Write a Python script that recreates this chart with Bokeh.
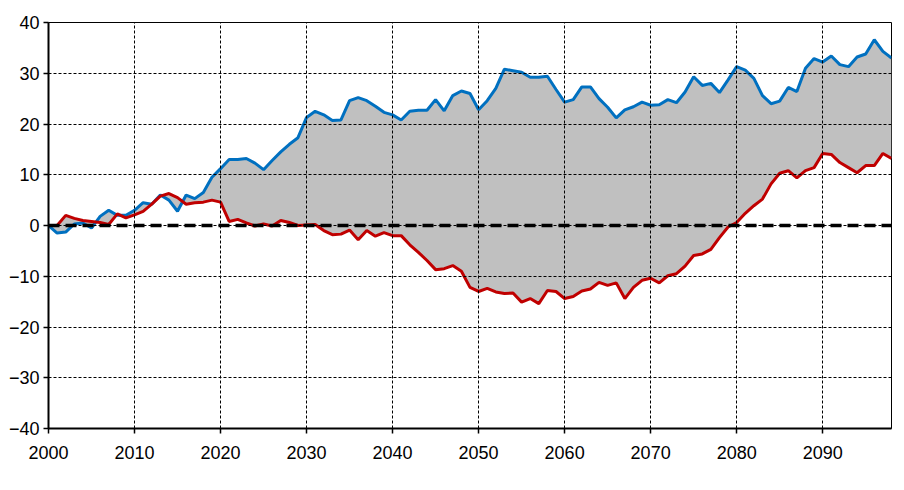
from bokeh.plotting import figure
from bokeh.models import ColumnDataSource, Span, FixedTicker, Range1d
from bokeh.embed import file_html
from bokeh.resources import INLINE

years = list(range(2000, 2099))

upper = [0.0, -1.5, -1.3, 0.3, 0.5, -0.5, 1.8, 3.0, 2.0, 2.0,
         3.0, 4.5, 4.2, 6.0, 5.0, 2.8, 6.0, 5.3, 6.5, 9.5,
         11.2, 13.0, 13.0, 13.2, 12.3, 11.0, 12.8, 14.5, 16.0, 17.3,
         21.3, 22.5, 21.8, 20.7, 20.8, 24.6, 25.2, 24.6, 23.5, 22.3,
         21.8, 20.8, 22.5, 22.7, 22.7, 24.8, 22.6, 25.6, 26.5, 26.0,
         22.8, 24.6, 27.0, 30.8, 30.5, 30.2, 29.2, 29.2, 29.4, 26.8,
         24.3, 24.8, 27.3, 27.3, 25.0, 23.3, 21.2, 22.8, 23.4, 24.3,
         23.7, 23.8, 24.8, 24.2, 26.3, 29.3, 27.6, 28.0, 26.2, 28.7,
         31.3, 30.6, 29.0, 25.6, 24.0, 24.5, 27.2, 26.4, 31.0, 32.9,
         32.2, 33.4, 31.7, 31.3, 33.2, 33.8, 36.6, 34.3, 33.0]

lower = [0.0, 0.0, 2.0, 1.4, 1.0, 0.8, 0.6, 0.2, 2.3, 1.5,
         2.1, 2.8, 4.2, 5.8, 6.3, 5.5, 4.2, 4.5, 4.6, 5.0,
         4.6, 0.8, 1.2, 0.5, -0.1, 0.3, -0.1, 1.0, 0.6, 0.0,
         0.1, 0.2, -1.0, -1.8, -1.7, -0.9, -2.8, -1.0, -2.1, -1.4,
         -2.0, -2.0, -3.8, -5.3, -6.9, -8.7, -8.5, -7.9, -9.0, -12.2,
         -13.0, -12.4, -13.1, -13.4, -13.3, -15.1, -14.4, -15.4, -12.8, -13.0,
         -14.4, -14.0, -12.9, -12.5, -11.2, -11.8, -11.3, -14.4, -12.2, -10.8,
         -10.4, -11.3, -9.9, -9.5, -8.0, -5.9, -5.6, -4.7, -2.4, -0.3,
         0.6, 2.4, 3.9, 5.2, 8.2, 10.3, 10.8, 9.4, 10.8, 11.4,
         14.2, 14.0, 12.4, 11.4, 10.4, 11.8, 11.8, 14.2, 13.2]

x_ticks = list(range(2000, 2091, 10))
y_ticks = list(range(-40, 41, 10))

src = ColumnDataSource(dict(x=years, up=upper, lo=lower))

p = figure(width=904, height=490, output_backend="svg", toolbar_location=None,
           x_range=Range1d(2000, 2098), y_range=Range1d(-40, 40),
           min_border_left=48, min_border_right=13, min_border_top=22, min_border_bottom=62)
p.background_fill_color = "white"
p.border_fill_color = "white"
p.outline_line_color = "black"
p.outline_line_width = 1

p.varea(x="x", y1="lo", y2="up", source=src, fill_color="#C0C0C0", level="underlay")

zero = Span(location=0, dimension="width", line_color="black", line_width=3.5,
            line_dash="11 6", level="glyph")
p.add_layout(zero)

p.line(x="x", y="up", source=src, line_color="#0070C0", line_width=3)
p.line(x="x", y="lo", source=src, line_color="#C00000", line_width=3)

p.xaxis.ticker = FixedTicker(ticks=x_ticks)
p.yaxis.ticker = FixedTicker(ticks=y_ticks)
for ax in (p.xaxis[0], p.yaxis[0]):
    ax.axis_line_color = "black"
    ax.axis_line_width = 2
    ax.major_tick_line_color = "black"
    ax.major_tick_line_width = 1.5
    ax.major_tick_out = 5
    ax.major_tick_in = 0
    ax.minor_tick_line_color = None
    ax.major_label_text_font = "Liberation Sans"
    ax.major_label_text_font_size = "18px"
    ax.major_label_text_color = "black"
p.xaxis.major_label_standoff = 12
p.yaxis.major_label_standoff = 4

for g in (p.xgrid[0], p.ygrid[0]):
    g.grid_line_color = "black"
    g.grid_line_width = 1
    g.grid_line_dash = "3 2"
    g.level = "glyph"

open("out.html", "w").write(file_html(p, INLINE))
